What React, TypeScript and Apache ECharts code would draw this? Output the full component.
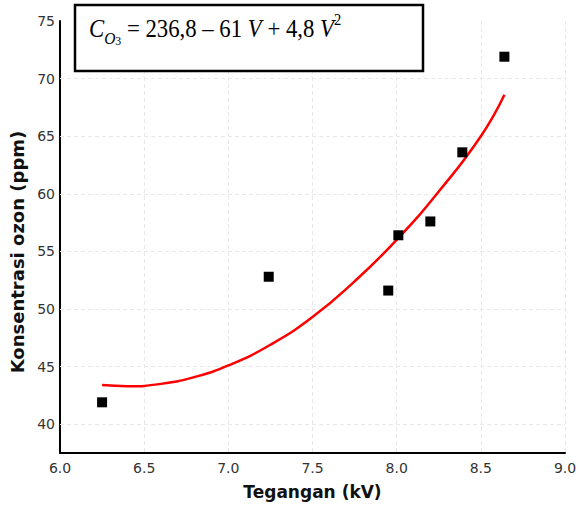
import React, { useEffect, useRef } from "react";
import * as echarts from "echarts";

// Measured points (Tegangan kV, Konsentrasi ozon ppm)
const voltage = [6.25, 7.24, 7.95, 8.01, 8.2, 8.39, 8.64];
const ozone = [41.9, 52.8, 51.6, 56.4, 57.6, 63.6, 71.9];

// Fitted curve
const curveV = [6.25, 6.4, 6.6, 6.8, 7.0, 7.25, 7.5, 7.75, 8.0, 8.25, 8.5, 8.64];
const curveC = [43.4, 43.3, 43.5, 44.1, 45.1, 46.9, 49.3, 52.4, 56.0, 60.2, 65.0, 68.6];

// Horizontal grid levels / tick labels on y
const yTicks = [40, 45, 50, 55, 60, 65, 70, 75];

const xTitle = "Tegangan (kV)";
const yTitle = "Konsentrasi ozon (ppm)";

export default function App() {
  const ref = useRef<HTMLDivElement>(null);
  useEffect(() => {
    if (!ref.current) return;
    document.body.style.margin = "0";
    const chart = echarts.init(ref.current, null, { renderer: "svg" });
    const gridColor = "#e8e8e8";
    const serif = "'Liberation Serif', 'Times New Roman', serif";
    const sans = "'DejaVu Sans', sans-serif";
    const labelStyle = { color: "#333", fontSize: 14, fontFamily: sans };
    chart.setOption({
      animation: false,
      backgroundColor: "#fff",
      grid: { left: 60, right: 14, top: 21, bottom: 55, containLabel: false, outerBoundsMode: "none" },
      xAxis: {
        type: "value",
        min: 6,
        max: 9,
        interval: 0.5,
        name: xTitle,
        nameLocation: "middle",
        nameGap: 30,
        nameTextStyle: { fontSize: 17, fontWeight: "bold", color: "#111", fontFamily: sans },
        axisLine: { show: true, lineStyle: { color: "#000", width: 2 } },
        axisTick: { show: false },
        axisLabel: { ...labelStyle, margin: 8, formatter: (v: number) => v.toFixed(1) },
        splitLine: { show: true, lineStyle: { color: gridColor, type: [4, 3], width: 1 } },
      },
      yAxis: {
        type: "value",
        min: 37.5,
        max: 75,
        interval: 2.5,
        axisLine: { show: true, onZero: false, lineStyle: { color: "#000", width: 2 } },
        axisTick: { show: false },
        axisLabel: {
          ...labelStyle,
          margin: 5,
          formatter: (v: number) => (yTicks.indexOf(v) >= 0 ? String(v) : ""),
        },
        splitLine: { show: false },
      },
      graphic: [
        {
          type: "text",
          x: 17,
          y: 252,
          rotation: Math.PI / 2,
          style: {
            text: yTitle,
            fontSize: 18,
            fontWeight: "bold",
            fontFamily: sans,
            fill: "#111",
            align: "center",
            verticalAlign: "middle",
          },
        },
        {
          type: "rect",
          shape: { x: 75, y: 5, width: 348, height: 66 },
          style: { fill: "#fff", stroke: "#000", lineWidth: 2.5 },
          z: 10,
        },
        {
          type: "text",
          x: 89,
          y: 11,
          scaleX: 0.91,
          z: 11,
          style: {
            text: "{i|C}{sub|O}{s3|3}{n| = 236,8 – 61 }{i|V}{n| + 4,8 }{i|V}{sup|2}",
            rich: {
              i: { fontFamily: serif, fontStyle: "italic", fontSize: 25, lineHeight: 36, verticalAlign: "middle", fill: "#000" },
              n: { fontFamily: serif, fontSize: 25, lineHeight: 36, verticalAlign: "middle", fill: "#000" },
              sub: { fontFamily: serif, fontStyle: "italic", fontSize: 17, lineHeight: 20, verticalAlign: "bottom", fill: "#000" },
              s3: { fontFamily: serif, fontSize: 13, lineHeight: 14, verticalAlign: "bottom", fill: "#000" },
              sup: { fontFamily: serif, fontSize: 16, lineHeight: 30, verticalAlign: "top", fill: "#000" },
            },
          },
        },
      ],
      series: [
        {
          type: "line",
          data: curveV.map((v, i) => [v, curveC[i]]),
          smooth: 0.5,
          showSymbol: false,
          lineStyle: { color: "#ff0000", width: 2.5 },
          z: 3,
          markLine: {
            silent: true,
            symbol: ["none", "none"],
            label: { show: false },
            lineStyle: { color: gridColor, type: [4, 3], width: 1 },
            data: yTicks.slice(0, -1).map((t) => ({ yAxis: t })),
            z: 1,
          },
        },
        {
          type: "scatter",
          data: voltage.map((v, i) => [v, ozone[i]]),
          symbol: "rect",
          symbolSize: 10,
          itemStyle: { color: "#000", opacity: 1 },
          z: 4,
        },
      ],
    });
    return () => chart.dispose();
  }, []);
  return <div ref={ref} style={{ width: 579, height: 508 }} />;
}
